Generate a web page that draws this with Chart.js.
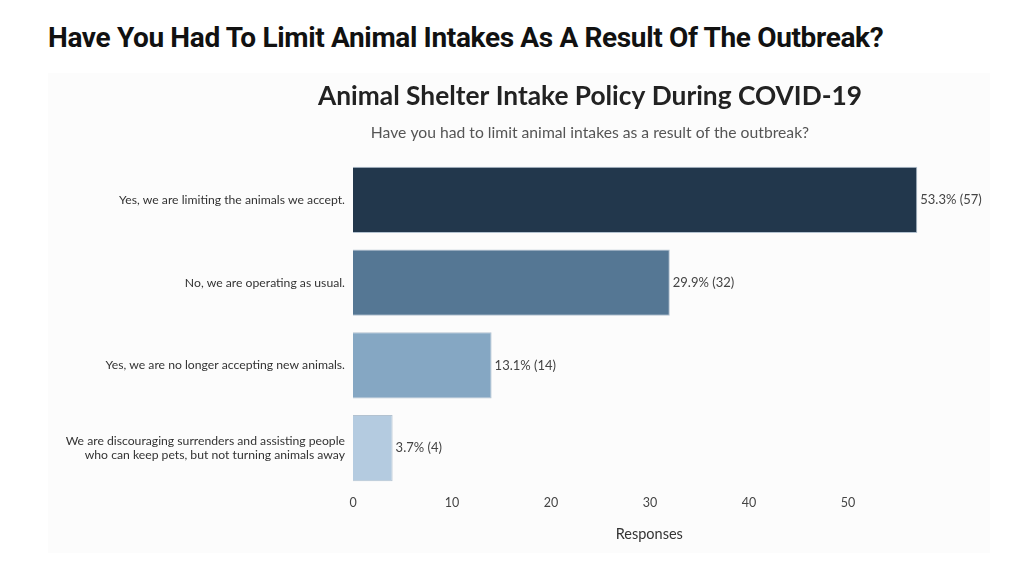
<!DOCTYPE html>
<html>
<head>
<meta charset="utf-8">
<script src="https://cdn.jsdelivr.net/npm/chart.js@4.4.0/dist/chart.umd.min.js"></script>
<style>
    html, body { margin: 0; padding: 0; background: #fff; width: 1024px; height: 568px; overflow: hidden; }
    h1 {
        position: absolute; left: 48px; top: 22px; margin: 0;
        font-family: Roboto, sans-serif; font-weight: 700; font-size: 28px;
        letter-spacing: -0.35px; line-height: 32px; color: #111; white-space: nowrap;
    }
    #panel { position: absolute; left: 48px; top: 73px; width: 942px; height: 480px; background: #fcfcfc; }
</style>
</head>
<body>
<h1>Have You Had To Limit Animal Intakes As A Result Of The Outbreak?</h1>
<div id="panel"><canvas id="intakeChart" width="942" height="480"></canvas></div>
<script>
// Datos
const categorias = [
    'Yes, we are limiting the animals we accept.',
    'No, we are operating as usual.',
    'Yes, we are no longer accepting new animals.',
    ['We are discouraging surrenders and assisting people', 'who can keep pets, but not turning animals away']
];
const respuestas = [57, 32, 14, 4];
const porcentajes = [53.3, 29.9, 13.1, 3.7];
const colores = ['#22374c', '#557794', '#85a7c3', '#b4cbe0'];
const ticksX = [0, 10, 20, 30, 40, 50];

const tituloPrincipal = 'Animal Shelter Intake Policy During COVID-19';
const subtitulo = 'Have you had to limit animal intakes as a result of the outbreak?';

/**
 * Titulo y subtitulo centrados sobre el panel
 */
const titulos = {
    id: 'titulos',
    afterDraw(chart) {
        const ctx = chart.ctx;
        ctx.save();
        ctx.textAlign = 'center';
        ctx.textBaseline = 'middle';
        ctx.fillStyle = '#222';
        ctx.font = 'bold 26.3px Lato';
        ctx.fillText(tituloPrincipal, 542, 24);
        ctx.fillStyle = '#555';
        ctx.font = '15.7px Lato';
        ctx.fillText(subtitulo, 542, 60);
        ctx.restore();
    }
};

/**
 * Etiquetas al final de cada barra
 */
const etiquetasBarras = {
    id: 'etiquetasBarras',
    afterDatasetsDraw(chart) {
        const ctx = chart.ctx;
        const meta = chart.getDatasetMeta(0);
        ctx.save();
        ctx.font = '13px Lato';
        ctx.fillStyle = '#444';
        ctx.textBaseline = 'middle';
        meta.data.forEach((bar, i) => {
            ctx.fillText(`${porcentajes[i]}% (${respuestas[i]})`, bar.x + 3, bar.y);
        });
        ctx.restore();
    }
};

const ctx = document.getElementById('intakeChart').getContext('2d');

new Chart(ctx, {
    type: 'bar',
    data: {
        labels: categorias,
        datasets: [{
            data: respuestas,
            backgroundColor: colores,
            borderColor: '#b3c2d0',
            borderWidth: 1,
            barPercentage: 0.8,
            categoryPercentage: 1
        }]
    },
    options: {
        indexAxis: 'y',
        responsive: false,
        animation: false,
        layout: { padding: { top: 85.5, right: 44.5, bottom: 5.5, left: 0 } },
        plugins: {
            legend: { display: false },
            tooltip: { enabled: false }
        },
        scales: {
            x: {
                min: 0,
                max: 59.85,
                grid: { display: false, drawTicks: false },
                border: { display: false },
                afterBuildTicks: scale => { scale.ticks = ticksX.map(v => ({ value: v })); },
                afterFit: scale => { scale.height = 58; },
                ticks: { color: '#444', font: { family: 'Lato', size: 12.5 }, padding: 6 },
                title: {
                    display: true,
                    text: 'Responses',
                    color: '#333',
                    font: { family: 'Lato', size: 14.5 },
                    padding: { top: 8, bottom: 4.5 }
                }
            },
            y: {
                grid: { display: false, drawTicks: false },
                border: { display: false },
                afterFit: scale => { scale.width = 305; },
                ticks: { color: '#333', font: { family: 'Lato', size: 12.2 }, padding: 8 }
            }
        }
    },
    plugins: [titulos, etiquetasBarras]
});
</script>
</body>
</html>
